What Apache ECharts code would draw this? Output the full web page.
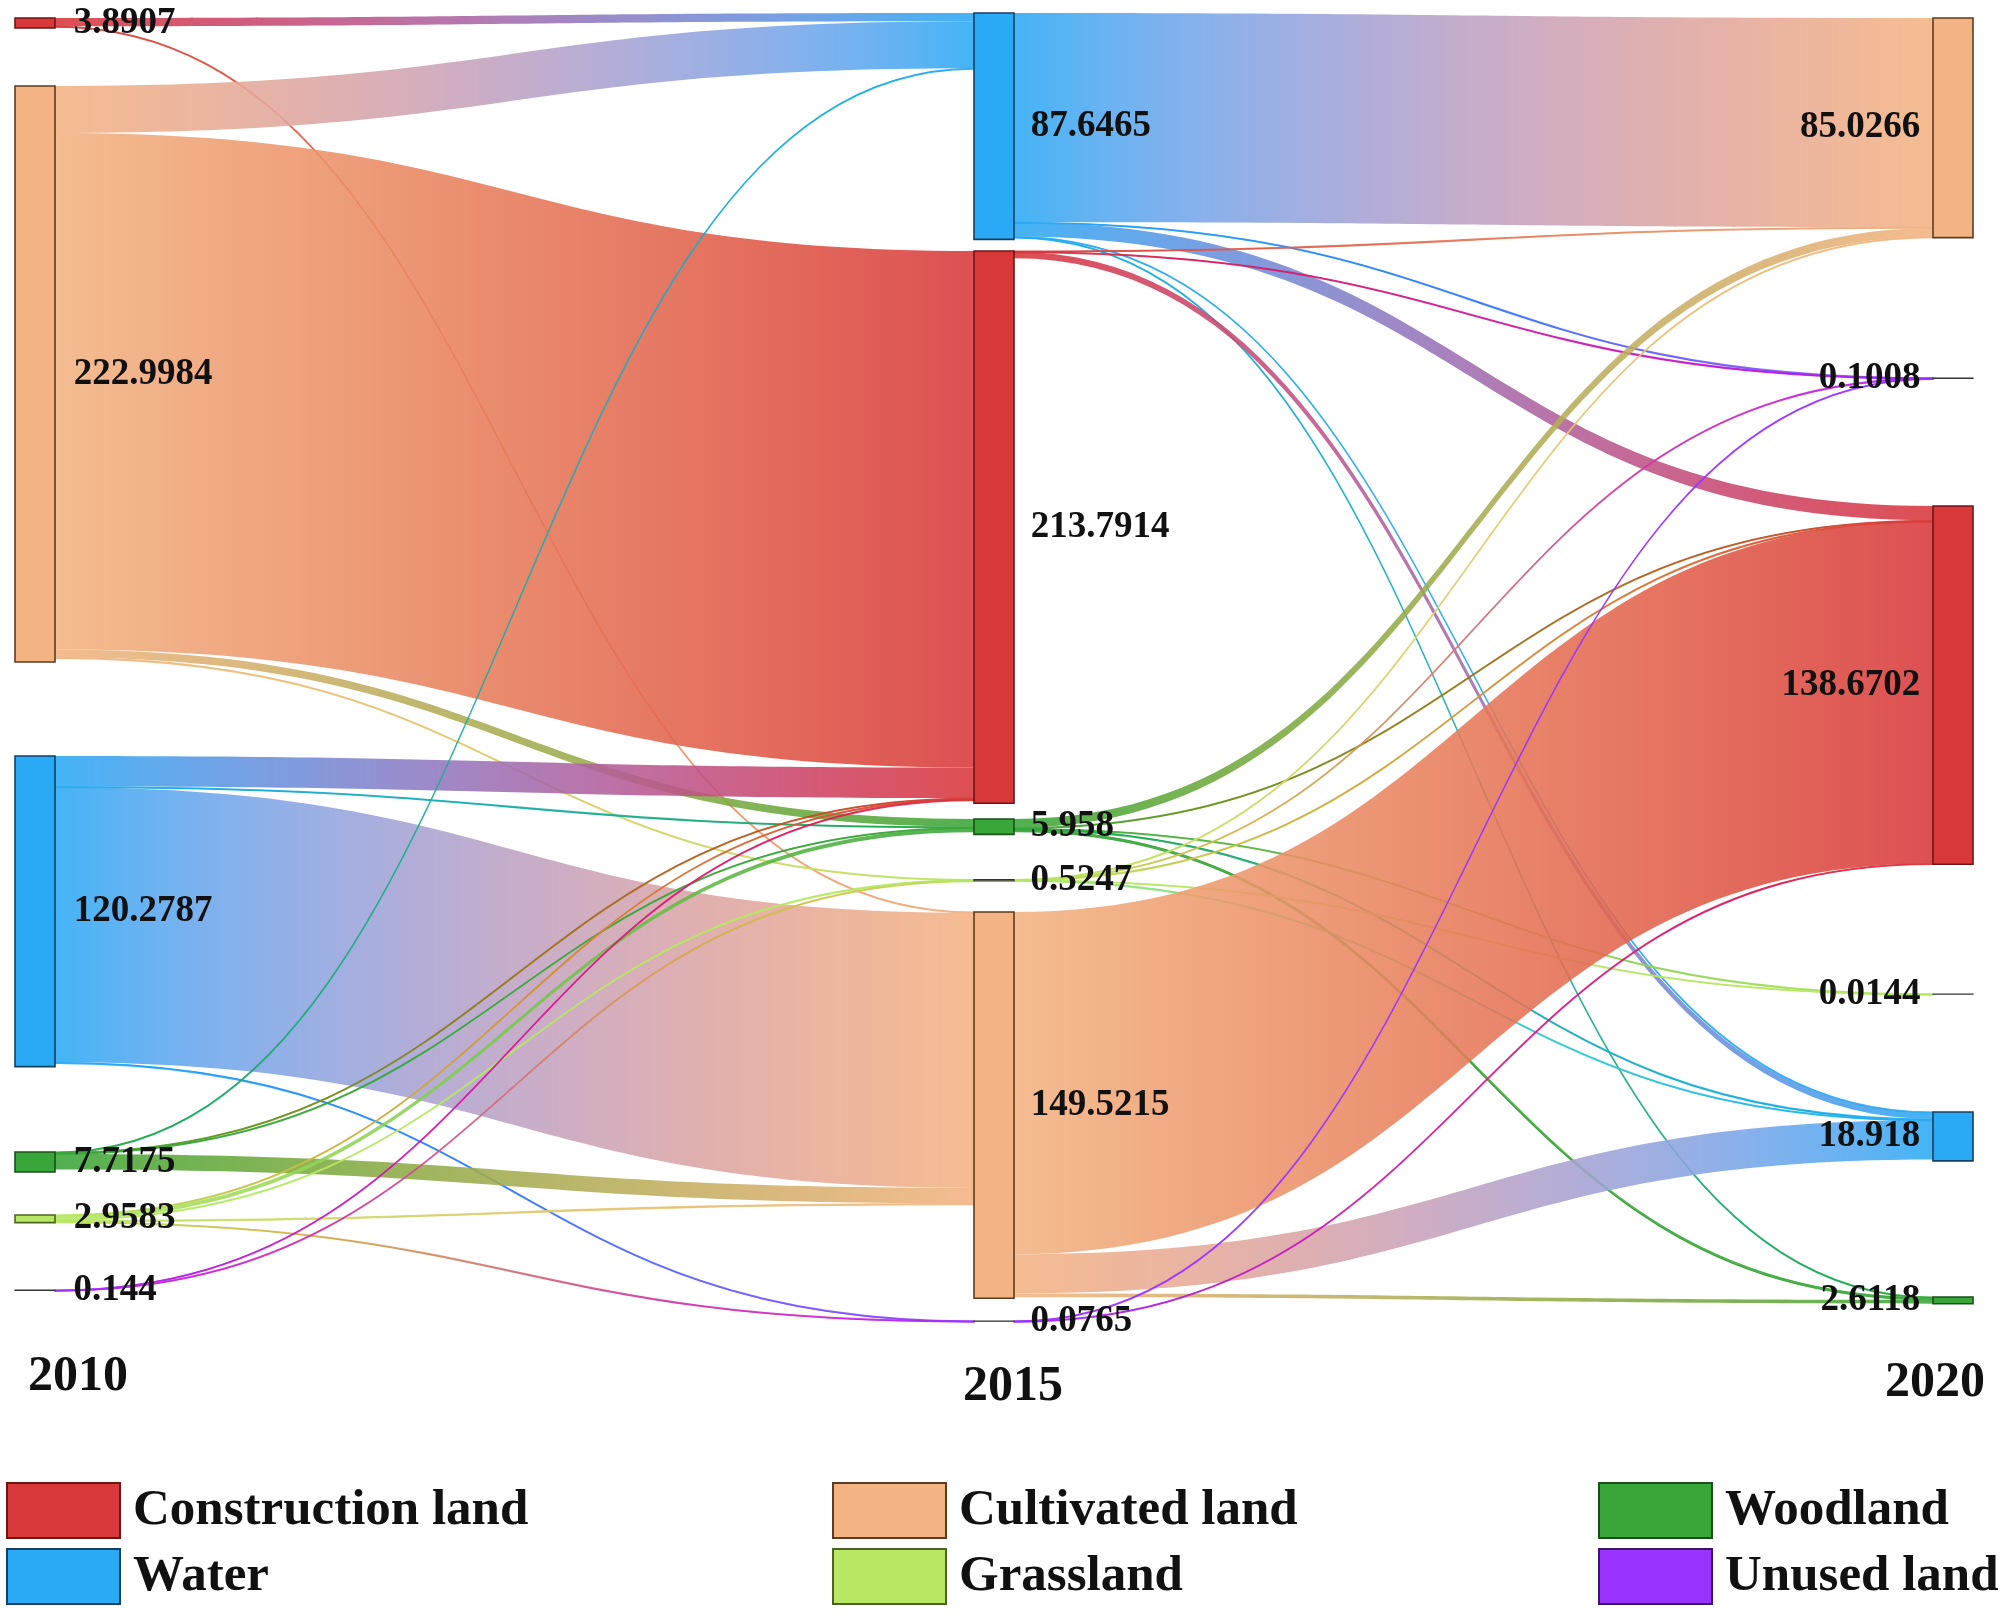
<!DOCTYPE html>
<html><head><meta charset="utf-8">
<script src="https://cdn.jsdelivr.net/npm/echarts@6/dist/echarts.min.js"></script>
<style>html,body{margin:0;padding:0;background:#fff}#c{width:2008px;height:1616px}</style>
</head><body><div id="c"></div>
<script>
// ---------------- data ----------------
const years = ['2010', '2015', '2020'];
const categories = ['Construction land', 'Cultivated land', 'Woodland', 'Water', 'Grassland', 'Unused land'];

// node areas for each year, in the vertical order of the picture
const order2010 = ['Construction land', 'Cultivated land', 'Water', 'Woodland', 'Grassland', 'Unused land'];
const values2010 = [3.8907, 222.9984, 120.2787, 7.7175, 2.9583, 0.144];
const order2015 = ['Water', 'Construction land', 'Woodland', 'Grassland', 'Cultivated land', 'Unused land'];
const values2015 = [87.6465, 213.7914, 5.958, 0.5247, 149.5215, 0.0765];
const order2020 = ['Cultivated land', 'Unused land', 'Construction land', 'Grassland', 'Water', 'Woodland'];
const values2020 = [85.0266, 0.1008, 138.6702, 0.0144, 18.918, 2.6118];

// transitions 2010 -> 2015  [from, to, value]
const flows1015 = [
  ['Construction land', 'Water', 3.2],
  ['Construction land', 'Cultivated land', 0.35],
  ['Cultivated land', 'Water', 18.2],
  ['Cultivated land', 'Construction land', 200.0],
  ['Cultivated land', 'Woodland', 3.0],
  ['Cultivated land', 'Grassland', 0.15],
  ['Water', 'Construction land', 11.8],
  ['Water', 'Woodland', 0.3],
  ['Water', 'Cultivated land', 106.5],
  ['Water', 'Unused land', 0.04],
  ['Woodland', 'Water', 0.2],
  ['Woodland', 'Construction land', 0.3],
  ['Woodland', 'Woodland', 0.3],
  ['Woodland', 'Cultivated land', 6.0],
  ['Grassland', 'Construction land', 0.3],
  ['Grassland', 'Woodland', 1.5],
  ['Grassland', 'Grassland', 0.3],
  ['Grassland', 'Cultivated land', 0.5],
  ['Grassland', 'Unused land', 0.04],
  ['Unused land', 'Construction land', 0.07],
  ['Unused land', 'Grassland', 0.05]
];
// transitions 2015 -> 2020  [from, to, value]
const flows1520 = [
  ['Water', 'Cultivated land', 81.0],
  ['Water', 'Unused land', 0.03],
  ['Water', 'Construction land', 5.5],
  ['Water', 'Water', 0.2],
  ['Water', 'Woodland', 0.3],
  ['Construction land', 'Cultivated land', 0.3],
  ['Construction land', 'Unused land', 0.03],
  ['Construction land', 'Water', 2.5],
  ['Woodland', 'Cultivated land', 3.4],
  ['Woodland', 'Construction land', 0.3],
  ['Woodland', 'Grassland', 0.007],
  ['Woodland', 'Water', 0.4],
  ['Woodland', 'Woodland', 0.8],
  ['Grassland', 'Cultivated land', 0.1],
  ['Grassland', 'Unused land', 0.02],
  ['Grassland', 'Construction land', 0.1],
  ['Grassland', 'Grassland', 0.007],
  ['Grassland', 'Water', 0.1],
  ['Cultivated land', 'Construction land', 132.5],
  ['Cultivated land', 'Water', 15.2],
  ['Cultivated land', 'Woodland', 1.5],
  ['Unused land', 'Unused land', 0.04],
  ['Unused land', 'Construction land', 0.03]
];

// ---------------- styles / layout ----------------
const catColor = {
  'Construction land': '#d8383a', 'Cultivated land': '#f3b382', 'Woodland': '#38a638',
  'Water': '#2aaaf4', 'Grassland': '#b6e862', 'Unused land': '#9a33ff'
};
const catBorder = {
  'Construction land': '#6e1616', 'Cultivated land': '#5c3c22', 'Woodland': '#1c4f1c',
  'Water': '#173f63', 'Grassland': '#4d6325', 'Unused land': '#3a1466'
};
const SERIES_TOP = 10, SERIES_H = 1330, KY = 2.583;
// vertical placement (px from the top of the page) of each node, same order as above
const layoutTops = {
  '2010': [18, 86, 756, 1152, 1215, 1290],
  '2015': [13, 251, 819, 879.5, 912, 1321],
  '2020': [18, 378, 506, 994, 1112, 1297]
};
const LABEL_FONT = {fontFamily: '"Liberation Serif", "DejaVu Serif", serif', fontWeight: 'bold', fontSize: 37, color: '#111'};

// ---------------- colour helpers (gradient between the two end colours) ----------------
const WX = 0.95047, WY = 1, WZ = 1.08883;
function hexToRgb(h) { h = h.replace('#', ''); return [0, 2, 4].map(function (i) { return parseInt(h.substr(i, 2), 16) / 255; }); }
function lin(c) { return c <= 0.04045 ? c / 12.92 : Math.pow((c + 0.055) / 1.055, 2.4); }
function delin(c) { return c <= 0.0031308 ? 12.92 * c : 1.055 * Math.pow(c, 1 / 2.4) - 0.055; }
function toLch(hex) {
  const c = hexToRgb(hex).map(lin), r = c[0], g = c[1], b = c[2];
  const X = (0.4124 * r + 0.3576 * g + 0.1805 * b) / WX;
  const Y = (0.2126 * r + 0.7152 * g + 0.0722 * b) / WY;
  const Z = (0.0193 * r + 0.1192 * g + 0.9505 * b) / WZ;
  const f = function (t) { return t > 0.008856 ? Math.cbrt(t) : 7.787 * t + 16 / 116; };
  const fx = f(X), fy = f(Y), fz = f(Z);
  const A = 500 * (fx - fy), B = 200 * (fy - fz);
  return [116 * fy - 16, Math.hypot(A, B), Math.atan2(B, A) * 180 / Math.PI];
}
function fromLch(L, C, H) {
  const A = C * Math.cos(H * Math.PI / 180), B = C * Math.sin(H * Math.PI / 180);
  const fy = (L + 16) / 116, fx = fy + A / 500, fz = fy - B / 200;
  const finv = function (t) { return t * t * t > 0.008856 ? t * t * t : (t - 16 / 116) / 7.787; };
  const X = finv(fx) * WX, Y = finv(fy) * WY, Z = finv(fz) * WZ;
  const rgb = [3.2406 * X - 1.5372 * Y - 0.4986 * Z, -0.9689 * X + 1.8758 * Y + 0.0415 * Z, 0.0557 * X - 0.2040 * Y + 1.0570 * Z];
  return rgb.map(function (v) { return Math.min(1, Math.max(0, delin(Math.max(0, v)))); });
}
function grad(a, b) {
  const p = toLch(a), q = toLch(b), pa = hexToRgb(a), pb = hexToRgb(b);
  let dh = q[2] - p[2];
  if (dh > 180) dh -= 360;
  if (dh < -180) dh += 360;
  const stops = [];
  for (let i = 0; i <= 10; i++) {
    const t = i / 10;
    const l = fromLch(p[0] + (q[0] - p[0]) * t, p[1] + (q[1] - p[1]) * t, p[2] + dh * t);
    const mix = l.map(function (v, k) { return Math.round(255 * (0.5 * v + 0.5 * (pa[k] + (pb[k] - pa[k]) * t))); });
    stops.push({offset: t, color: 'rgb(' + mix.join(',') + ')'});
  }
  return new echarts.graphic.LinearGradient(0, 0, 1, 0, stops);
}

// ---------------- build ----------------
const columns = [[order2010, values2010], [order2015, values2015], [order2020, values2020]];
const nodes = [];
columns.forEach(function (col, d) {
  const yr = years[d];
  col[0].forEach(function (cat, i) {
    const small = col[1][i] < 1;
    nodes.push({
      name: cat + ' ' + yr,
      value: col[1][i],
      depth: d,
      localY: (layoutTops[yr][i] - SERIES_TOP) / SERIES_H,
      itemStyle: {color: catColor[cat], borderColor: small ? '#333' : catBorder[cat], borderWidth: small ? 1.2 : 1.6},
      label: Object.assign({
        show: true,
        position: d === 2 ? 'left' : 'right',
        distance: d === 2 ? 12 : (d === 0 ? 18 : 16),
        formatter: String(col[1][i])
      }, LABEL_FONT)
    });
  });
});
const links = [];
[[flows1015, years[0], years[1]], [flows1520, years[1], years[2]]].forEach(function (set) {
  set[0].forEach(function (f) {
    const g = grad(catColor[f[0]], catColor[f[1]]);
    const thin = f[2] * KY < 3;
    links.push({
      source: f[0] + ' ' + set[1],
      target: f[1] + ' ' + set[2],
      value: f[2],
      lineStyle: thin ? {color: g, borderColor: g, borderWidth: 1.1} : {color: g}
    });
  });
});

const legendOrder = [['Construction land', 'Water'], ['Cultivated land', 'Grassland'], ['Woodland', 'Unused land']];
const legendLeft = [1, 827, 1593];
const legends = legendOrder.map(function (names, k) {
  return {
    orient: 'vertical', left: legendLeft[k], top: 1477,
    itemWidth: 113, itemHeight: 55, itemGap: 9, icon: 'rect', selectedMode: false,
    data: names.map(function (n) {
      return {name: n, itemStyle: {color: catColor[n], borderColor: catBorder[n], borderWidth: 2, opacity: 1}};
    }),
    textStyle: {fontFamily: '"Liberation Serif", serif', fontWeight: 'bold', fontSize: 51, color: '#111', lineHeight: 55, padding: [0, 0, 0, 8]}
  };
});
const dummySeries = categories.map(function (n) {
  return {type: 'scatter', name: n, data: [], xAxisIndex: 0, yAxisIndex: 0,
    itemStyle: {color: catColor[n], borderColor: catBorder[n], borderWidth: 2, opacity: 1}};
});

const yearLabelPos = [[28, 1377], [963, 1387], [1885, 1383]];
const chart = echarts.init(document.getElementById('c'), null, {renderer: 'canvas'});
chart.setOption({
  backgroundColor: '#ffffff',
  animation: false,
  grid: {left: 0, top: 0, width: 1, height: 1, show: false},
  xAxis: {show: false, type: 'value'},
  yAxis: {show: false, type: 'value'},
  legend: legends,
  graphic: years.map(function (y, i) {
    return {type: 'text', x: yearLabelPos[i][0], y: yearLabelPos[i][1],
      style: {text: y, fill: '#111', font: 'bold 50px "Liberation Serif", serif', verticalAlign: 'middle'}};
  }),
  series: [{
    type: 'sankey',
    left: 15, top: SERIES_TOP, width: 1958, height: SERIES_H,
    nodeWidth: 40, nodeGap: 29.65, layoutIterations: 0, draggable: false,
    emphasis: {disabled: true},
    lineStyle: {opacity: 0.88, curveness: 0.5},
    data: nodes,
    links: links
  }].concat(dummySeries)
});
</script></body></html>
